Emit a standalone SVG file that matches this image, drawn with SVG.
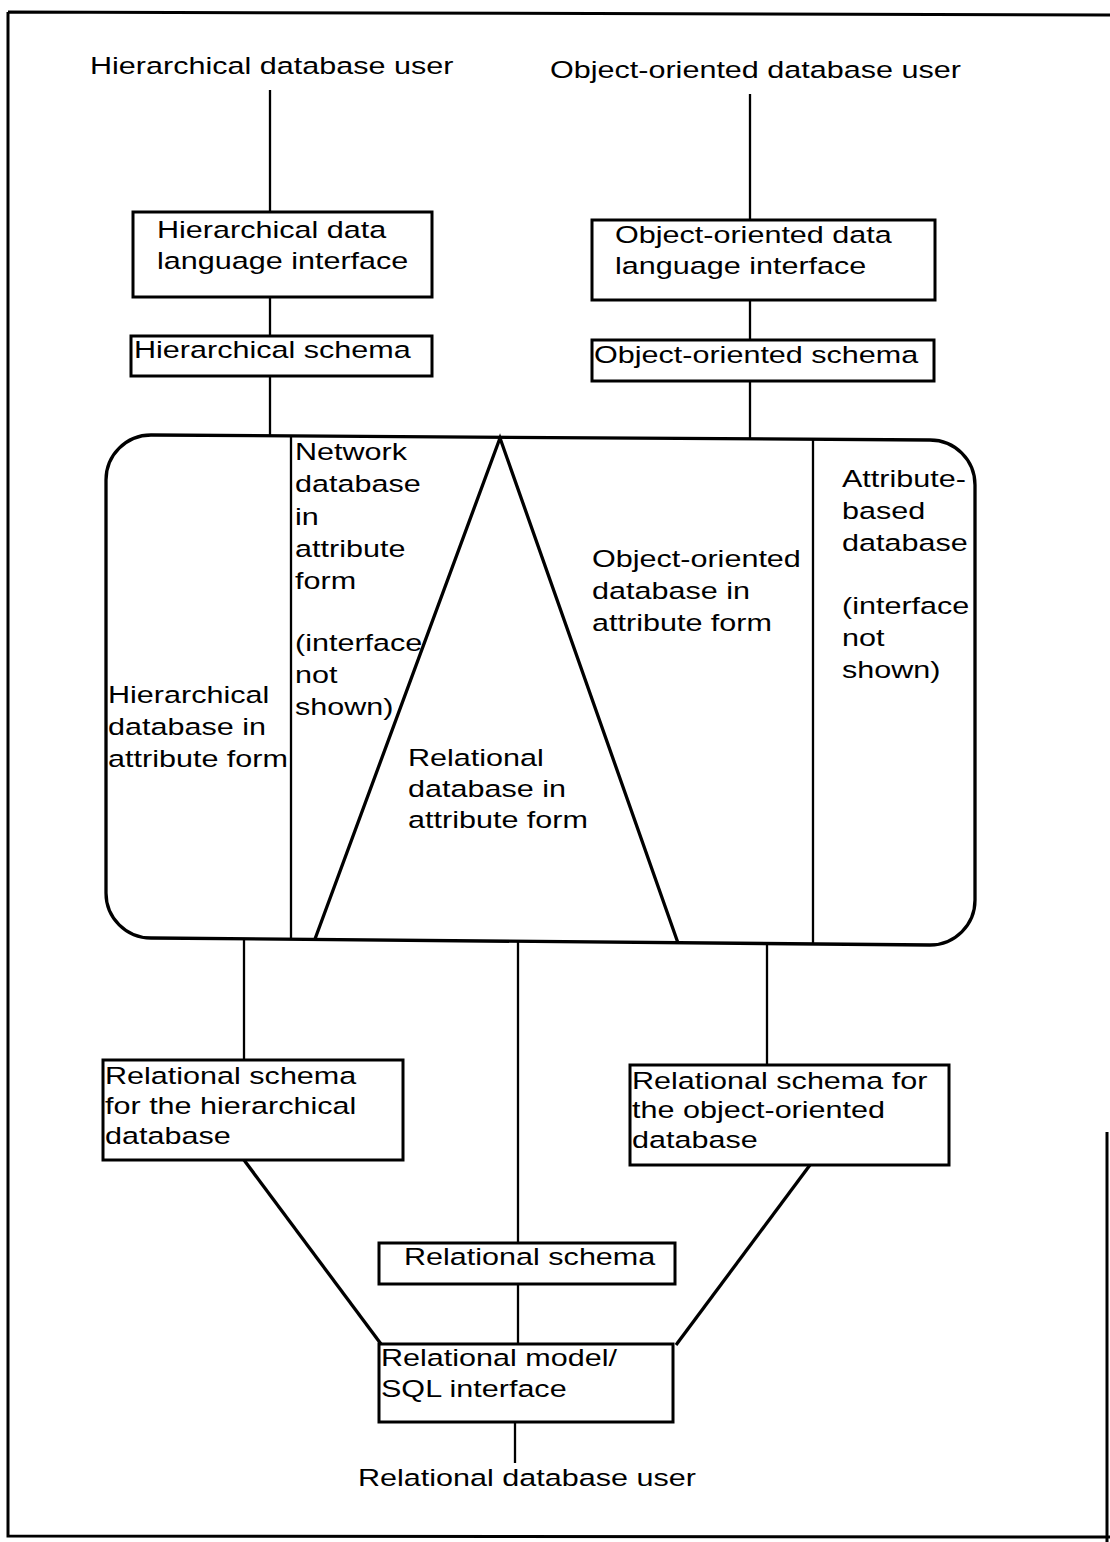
<svg xmlns="http://www.w3.org/2000/svg" width="1110" height="1542" viewBox="0 0 1110 1542">
<style>
.t{font-family:"Liberation Sans",Arial,sans-serif;font-size:23.5px;fill:#000}
.box{fill:#fff;stroke:#000;stroke-width:3}
.c{stroke:#000;stroke-width:2.3;fill:none}
.thick{stroke:#000;stroke-width:3.3;fill:none}
.frame{stroke:#000;stroke-width:3;fill:none}
</style>
<rect width="1110" height="1542" fill="#fff"/>
<g id="frame">
<path class="frame" d="M8,12 L1110,15 M8,12 L8,1536 L1110,1537 M1107,1132 L1107,1542"/>
</g>
<g id="connectors">
<line class="c" x1="270" y1="90" x2="270" y2="212"/>
<line class="c" x1="270" y1="297" x2="270" y2="336"/>
<line class="c" x1="270" y1="376" x2="270" y2="436"/>
<line class="c" x1="750" y1="94" x2="750" y2="220"/>
<line class="c" x1="750" y1="300" x2="750" y2="340"/>
<line class="c" x1="750" y1="381" x2="750" y2="440"/>
<line class="c" x1="244" y1="938" x2="244" y2="1060"/>
<line class="c" x1="518" y1="941" x2="518" y2="1243"/>
<line class="c" x1="767" y1="944" x2="767" y2="1065"/>
<line class="thick" x1="244" y1="1160" x2="381" y2="1344"/>
<line class="thick" x1="810" y1="1165" x2="676" y2="1345"/>
<line class="c" x1="518" y1="1284" x2="518" y2="1344"/>
<line class="c" x1="515" y1="1422" x2="515" y2="1463"/>
</g>
<g id="hier-user">
<text class="t" transform="translate(90,74) scale(1.3,1)">Hierarchical database user</text>
</g>
<g id="oo-user">
<text class="t" transform="translate(550,78) scale(1.3,1)">Object-oriented database user</text>
</g>
<g id="hier-dli">
<rect class="box" x="133" y="212" width="299" height="85"/>
<text class="t" transform="translate(157,0) scale(1.3,1)"><tspan x="0" y="238">Hierarchical data</tspan><tspan x="0" y="269">language interface</tspan></text>
</g>
<g id="hier-schema">
<rect class="box" x="131" y="336" width="301" height="40"/>
<text class="t" transform="translate(134,358) scale(1.3,1)">Hierarchical schema</text>
</g>
<g id="oo-dli">
<rect class="box" x="592" y="220" width="343" height="80"/>
<text class="t" transform="translate(615,0) scale(1.3,1)"><tspan x="0" y="243">Object-oriented  data</tspan><tspan x="0" y="274">language interface</tspan></text>
</g>
<g id="oo-schema">
<rect class="box" x="592" y="340" width="342" height="41"/>
<text class="t" transform="translate(594,363) scale(1.3,1)">Object-oriented schema</text>
</g>
<g id="kernel">
<path class="thick" d="M106,480 A45,45 0 0 1 151,435 L930,440 A45,45 0 0 1 975,485 L975,900 A45,45 0 0 1 930,945 L151,938 A45,45 0 0 1 106,893 Z"/>
<line class="c" x1="291" y1="436" x2="291" y2="938"/>
<line class="c" x1="813" y1="440" x2="813" y2="944"/>
<polyline class="thick" points="315,939 500,438 678,943"/>
<text class="t" transform="translate(295,0) scale(1.3,1)"><tspan x="0" y="460">Network</tspan><tspan x="0" y="492">database</tspan><tspan x="0" y="525">in</tspan><tspan x="0" y="557">attribute</tspan><tspan x="0" y="589">form</tspan><tspan x="0" y="651">(interface</tspan><tspan x="0" y="683">not</tspan><tspan x="0" y="715">shown)</tspan></text>
<text class="t" transform="translate(108,0) scale(1.3,1)"><tspan x="0" y="703">Hierarchical</tspan><tspan x="0" y="735">database in</tspan><tspan x="0" y="767">attribute form</tspan></text>
<text class="t" transform="translate(408,0) scale(1.3,1)"><tspan x="0" y="766">Relational</tspan><tspan x="0" y="797">database in</tspan><tspan x="0" y="828">attribute form</tspan></text>
<text class="t" transform="translate(592,0) scale(1.3,1)"><tspan x="0" y="567">Object-oriented</tspan><tspan x="0" y="599">database in</tspan><tspan x="0" y="631">attribute form</tspan></text>
<text class="t" transform="translate(842,0) scale(1.3,1)"><tspan x="0" y="487">Attribute-</tspan><tspan x="0" y="519">based</tspan><tspan x="0" y="551">database</tspan><tspan x="0" y="614">(interface</tspan><tspan x="0" y="646">not</tspan><tspan x="0" y="678">shown)</tspan></text>
</g>
<g id="rel-schema-hier">
<rect class="box" x="103" y="1060" width="300" height="100"/>
<text class="t" transform="translate(105,0) scale(1.3,1)"><tspan x="0" y="1084">Relational schema</tspan><tspan x="0" y="1114">for the hierarchical</tspan><tspan x="0" y="1144">database</tspan></text>
</g>
<g id="rel-schema-oo">
<rect class="box" x="630" y="1065" width="319" height="100"/>
<text class="t" transform="translate(632,0) scale(1.3,1)"><tspan x="0" y="1089">Relational schema for</tspan><tspan x="0" y="1118">the object-oriented</tspan><tspan x="0" y="1148">database</tspan></text>
</g>
<g id="rel-schema">
<rect class="box" x="379" y="1243" width="296" height="41"/>
<text class="t" transform="translate(404,1265) scale(1.3,1)">Relational  schema</text>
</g>
<g id="sql-interface">
<rect class="box" x="379" y="1344" width="294" height="78"/>
<text class="t" transform="translate(381,0) scale(1.3,1)"><tspan x="0" y="1366">Relational model/</tspan><tspan x="0" y="1397">SQL interface</tspan></text>
</g>
<g id="rel-user">
<text class="t" transform="translate(358,1486) scale(1.3,1)">Relational  database user</text>
</g>
</svg>
